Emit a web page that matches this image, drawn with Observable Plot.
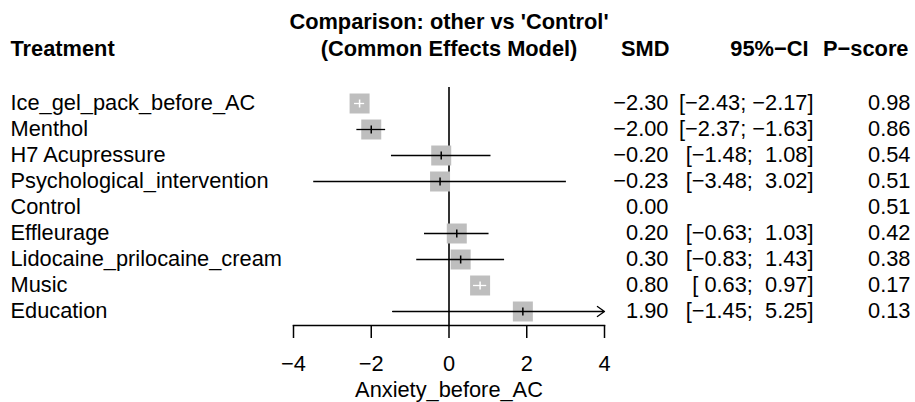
<!DOCTYPE html>
<html>
<head>
<meta charset="utf-8">
<script src="https://cdn.jsdelivr.net/npm/d3@7"></script>
<script src="https://cdn.jsdelivr.net/npm/@observablehq/plot@0.6"></script>
<style>
  html, body { margin: 0; padding: 0; background: #fff; }
  svg text { white-space: pre; }
</style>
</head>
<body>
<div id="chart"></div>
<script>
// ---- data ----
const treatments = ["Ice_gel_pack_before_AC", "Menthol", "H7 Acupressure", "Psychological_intervention", "Control", "Effleurage", "Lidocaine_prilocaine_cream", "Music", "Education"];
const smd    = [-2.30, -2.00, -0.20, -0.23, 0.00, 0.20, 0.30, 0.80, 1.90];
const lower  = [-2.43, -2.37, -1.48, -3.48, null, -0.63, -0.83, 0.63, -1.45];
const upper  = [-2.17, -1.63,  1.08,  3.02, null,  1.03,  1.43, 0.97,  5.25];
const pscore = [0.98, 0.86, 0.54, 0.51, 0.51, 0.42, 0.38, 0.17, 0.13];
const reference = "Control";
const xTicks = [-4, -2, 0, 2, 4];
const xDomain = [-4, 4];
const header = {treatment: "Treatment", comp1: "Comparison: other vs 'Control'", comp2: "(Common Effects Model)", smd: "SMD", ci: "95%\u2212CI", p: "P\u2212score"};
const xLabel = "Anxiety_before_AC";

// ---- table ----
const rows = treatments.map((name, i) => {
  const r = {name, smd: smd[i], lo: lower[i], hi: upper[i], p: pscore[i]};
  r.smdText = (smd[i] < 0 ? "\u2212" : "") + Math.abs(smd[i]).toFixed(2);
  if (lower[i] == null) r.ciText = "";
  else {
    const lo = lower[i] < 0 ? "\u2212" + Math.abs(lower[i]).toFixed(2) : " " + lower[i].toFixed(2);
    const hi = upper[i] < 0 ? " \u2212" + Math.abs(upper[i]).toFixed(2) : "  " + upper[i].toFixed(2);
    r.ciText = "[" + lo + ";" + hi + "]";
  }
  r.pText = pscore[i].toFixed(2);
  return r;
});
const est = rows.filter(r => r.name !== reference);

const W = 915, H = 402;
const mL = 293, mR = 311, mT = 87, mB = 77;
const pxPerUnit = (W - mL - mR) / (xDomain[1] - xDomain[0]);
const sq = 20; // square side in px
const inside = r => (r.hi - r.lo) * pxPerUnit < sq;
const lineColor = r => inside(r) ? "white" : "black";
const fs = 21.8;
const vbar = {draw(ctx, size) { const h = Math.sqrt(size) / 2; ctx.moveTo(0, -h); ctx.lineTo(0, h); }};
const hdrY = 48.5 - mT;

const chart = Plot.plot({
  width: W, height: H,
  marginLeft: mL, marginRight: mR, marginTop: mT, marginBottom: mB,
  style: {fontFamily: "'Liberation Sans', Arial, Helvetica, sans-serif", fontSize: fs + "px", color: "black", background: "white"},
  x: {domain: xDomain},
  y: {type: "point", domain: treatments, range: [101, 313], padding: 0, axis: null},
  marks: [
    Plot.ruleX([0], {stroke: "#333", strokeWidth: 2}),
    Plot.frame({anchor: "bottom", strokeWidth: 1.5}),
    Plot.axisX({ticks: xTicks, tickSize: 13, tickPadding: 17, fontSize: fs, label: null, strokeWidth: 1.5}),
    Plot.dot(est, {x: "smd", y: "name", symbol: "square", r: sq / Math.sqrt(Math.PI), fill: "#bebebe", stroke: null}),
    Plot.ruleY(est.filter(r => r.hi <= xDomain[1] && r.lo >= xDomain[0]), {x1: "lo", x2: "hi", y: "name", stroke: lineColor, strokeWidth: 1.3}),
    Plot.arrow(est.filter(r => r.hi > xDomain[1]), {x1: "lo", x2: r => Math.min(r.hi, xDomain[1]), y1: "name", y2: "name", stroke: "black", strokeWidth: 1.3, headLength: 10, headAngle: 70}),
    Plot.dot(est, {x: "smd", y: "name", symbol: vbar, r: 8 / Math.sqrt(Math.PI), fill: "none", stroke: lineColor, strokeWidth: 1.5}),
    // table columns
    Plot.text(rows, {y: "name", text: "name", frameAnchor: "left", dx: 10 - mL, textAnchor: "start", lineAnchor: "middle", fontSize: fs}),
    Plot.text(rows, {y: "name", text: "smdText", frameAnchor: "right", dx: 668 - (W - mR), textAnchor: "end", lineAnchor: "middle", fontSize: fs}),
    Plot.text(rows, {y: "name", text: "ciText", frameAnchor: "right", dx: 813 - (W - mR), textAnchor: "end", lineAnchor: "middle", fontSize: fs}),
    Plot.text(rows, {y: "name", text: "pText", frameAnchor: "right", dx: 910 - (W - mR), textAnchor: "end", lineAnchor: "middle", fontSize: fs}),
    // headers
    Plot.text([header.treatment], {text: d => d, frameAnchor: "top-left", dx: 10 - mL, dy: hdrY, textAnchor: "start", lineAnchor: "middle", fontWeight: "bold", fontSize: fs}),
    Plot.text([header.comp1], {text: d => d, frameAnchor: "top", dy: 21.5 - mT, lineAnchor: "middle", fontWeight: "bold", fontSize: fs}),
    Plot.text([header.comp2], {text: d => d, frameAnchor: "top", dy: hdrY, lineAnchor: "middle", fontWeight: "bold", fontSize: fs}),
    Plot.text([header.smd], {text: d => d, frameAnchor: "top-right", dx: 669 - (W - mR), dy: hdrY, textAnchor: "end", lineAnchor: "middle", fontWeight: "bold", fontSize: fs}),
    Plot.text([header.ci], {text: d => d, frameAnchor: "top-right", dx: 808 - (W - mR), dy: hdrY, textAnchor: "end", lineAnchor: "middle", fontWeight: "bold", fontSize: fs}),
    Plot.text([header.p], {text: d => d, frameAnchor: "top-right", dx: 908 - (W - mR), dy: hdrY, textAnchor: "end", lineAnchor: "middle", fontWeight: "bold", fontSize: fs}),
    // axis title
    Plot.text([xLabel], {text: d => d, frameAnchor: "bottom", dy: 65, lineAnchor: "middle", fontSize: fs})
  ]
});
document.getElementById("chart").appendChild(chart);
</script>
</body>
</html>
